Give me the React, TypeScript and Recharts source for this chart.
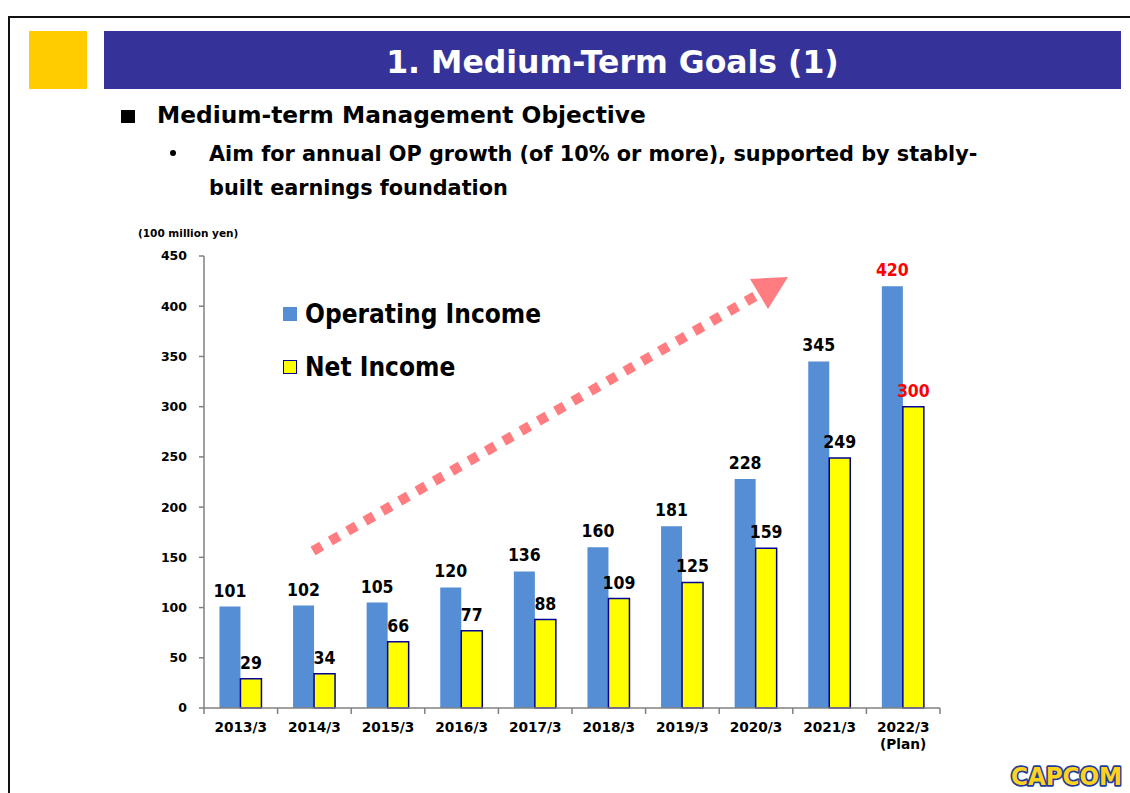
import React from "react";
import { BarChart, Bar, XAxis, YAxis, Legend, LabelList } from "recharts";

const categories = ["2013/3", "2014/3", "2015/3", "2016/3", "2017/3", "2018/3", "2019/3", "2020/3", "2021/3", "2022/3"];
const categoryNotes = ["", "", "", "", "", "", "", "", "", "(Plan)"];
const operatingIncome = [101, 102, 105, 120, 136, 160, 181, 228, 345, 420];
const netIncome = [29, 34, 66, 77, 88, 109, 125, 159, 249, 300];
const isPlan = [false, false, false, false, false, false, false, false, false, true];
const yTicks = [0, 50, 100, 150, 200, 250, 300, 350, 400, 450];

const COND = "'DejaVu Sans Condensed', 'DejaVu Sans', sans-serif";
const WIDE = "'DejaVu Sans', sans-serif";
const BLUE = "#558ED5";
const YELLOW = "#FFFF00";
const NAVY = "#000099";
const AXIS = "#808080";

const chartData = categories.map((c, i) => ({
  name: c,
  note: categoryNotes[i],
  op: operatingIncome[i],
  net: netIncome[i],
}));

function ValueLabel(props: any) {
  const { x, y, width, value, index } = props;
  return (
    <text
      x={Number(x) + Number(width) / 2}
      y={Number(y) - 10}
      textAnchor="middle"
      fontFamily={COND}
      fontWeight="bold"
      fontSize={17.5}
      fill={isPlan[index] ? "#FF0000" : "#000"}
    >
      {value}
    </text>
  );
}

function CategoryTick(props: any) {
  const { x, y, payload, index } = props;
  const half = payload?.offset || 36.8;
  const last = index === categories.length - 1;
  const note = categoryNotes[index];
  return (
    <g>
      <line x1={x - half} y1={y} x2={x - half} y2={y + 6} stroke={AXIS} strokeWidth={1.5} />
      {last ? <line x1={x + half} y1={y} x2={x + half} y2={y + 6} stroke={AXIS} strokeWidth={1.5} /> : null}
      <text x={x} y={y + 24} textAnchor="middle" fontFamily={WIDE} fontWeight="bold" fontSize={13.7} fill="#000">
        {payload.value}
      </text>
      {note ? (
        <text x={x} y={y + 41} textAnchor="middle" fontFamily={WIDE} fontWeight="bold" fontSize={13.7} fill="#000">
          {note}
        </text>
      ) : null}
    </g>
  );
}

function LegendBox() {
  const items = [
    { label: "Operating Income", fill: BLUE, stroke: "none" },
    { label: "Net Income", fill: YELLOW, stroke: NAVY },
  ];
  return (
    <div style={{ fontFamily: COND, fontWeight: "bold", fontSize: 26, color: "#000" }}>
      {items.map((it, i) => (
        <div key={it.label} style={{ display: "flex", alignItems: "center", height: 30, marginBottom: i === 0 ? 23 : 0 }}>
          <span
            style={{
              display: "inline-block",
              width: it.stroke === "none" ? 14 : 12,
              height: it.stroke === "none" ? 14 : 12,
              background: it.fill,
              border: it.stroke === "none" ? "none" : `1.5px solid ${it.stroke}`,
              marginRight: 8,
            }}
          />
          <span>{it.label}</span>
        </div>
      ))}
    </div>
  );
}

export default function App() {
  return (
    <div style={{ position: "absolute", left: 0, top: 0, width: 1130, height: 793, background: "#fff", overflow: "hidden" }}>
      {/* page frame */}
      <div style={{ position: "absolute", left: 8, top: 16, width: 1200, height: 900, borderTop: "2px solid #111", borderLeft: "2px solid #111" }} />
      {/* header */}
      <div style={{ position: "absolute", left: 29, top: 31, width: 58, height: 58, background: "#FFCC00" }} />
      <div
        style={{
          position: "absolute",
          left: 104,
          top: 31,
          width: 1017,
          height: 56,
          paddingTop: 2,
          background: "#353399",
          color: "#fff",
          fontFamily: WIDE,
          fontWeight: "bold",
          fontSize: 31.5,
          lineHeight: "58px",
          textAlign: "center",
        }}
      >
        1. Medium-Term Goals (1)
      </div>
      <div style={{ position: "absolute", left: 121, top: 110, width: 14, height: 13, background: "#000" }} />
      <div style={{ position: "absolute", left: 157, top: 101, fontFamily: WIDE, fontWeight: "bold", fontSize: 23.3, color: "#000", whiteSpace: "nowrap" }}>
        Medium-term Management Objective
      </div>
      <div style={{ position: "absolute", left: 170, top: 150, width: 6, height: 6, borderRadius: 3, background: "#000" }} />
      <div style={{ position: "absolute", left: 209, top: 137, fontFamily: WIDE, fontWeight: "bold", fontSize: 20.8, lineHeight: "34px", color: "#000", whiteSpace: "nowrap" }}>
        Aim for annual OP growth (of 10% or more), supported by stably-
        <br />
        built earnings foundation
      </div>
      <div style={{ position: "absolute", left: 138, top: 227, fontFamily: WIDE, fontWeight: "bold", fontSize: 10.5, color: "#000", whiteSpace: "nowrap" }}>
        (100 million yen)
      </div>

      <div style={{ position: "absolute", left: 0, top: 0 }}>
        <BarChart
          width={1130}
          height={793}
          data={chartData}
          margin={{ top: 256, right: 190, bottom: 55, left: 144 }}
          barCategoryGap="21%"
          barGap={0}
        >
          <XAxis
            dataKey="name"
            interval={0}
            tickSize={0}
            tickMargin={0}
            tickLine={false}
            axisLine={{ stroke: AXIS, strokeWidth: 1.5 }}
            tick={<CategoryTick />}
            height={30}
          />
          <YAxis
            domain={[0, 450]}
            ticks={yTicks}
            interval={0}
            width={60}
            tickSize={5}
            tickMargin={12}
            axisLine={{ stroke: AXIS, strokeWidth: 1.5 }}
            tickLine={{ stroke: AXIS, strokeWidth: 1.5 }}
            tick={{ fontFamily: WIDE, fontWeight: "bold", fontSize: 12.5, fill: "#000" }}
          />
          <Legend
            layout="vertical"
            align="center"
            verticalAlign="middle"
            content={() => <LegendBox />}
            wrapperStyle={{ left: 283, top: 299, width: 300 }}
          />
          <Bar dataKey="op" name="Operating Income" fill={BLUE} isAnimationActive={false}>
            <LabelList dataKey="op" content={<ValueLabel />} />
          </Bar>
          <Bar dataKey="net" name="Net Income" fill={YELLOW} stroke={NAVY} strokeWidth={1.5} isAnimationActive={false}>
            <LabelList dataKey="net" content={<ValueLabel />} />
          </Bar>
        </BarChart>
      </div>

      {/* growth arrow */}
      <svg style={{ position: "absolute", left: 0, top: 0 }} width={1130} height={793}>
        <line x1={313} y1={551} x2={759} y2={294} stroke="#FF7C80" strokeWidth={10} strokeDasharray="10 10" />
        <polygon points="788,277 750,279 768,309" fill="#FF7C80" />
        <text
          x={1011}
          y={785}
          textLength={111}
          lengthAdjust="spacingAndGlyphs"
          fontFamily={WIDE}
          fontWeight="bold"
          fontSize={25}
          fill="#FFD21F"
          stroke="#1E3C9A"
          strokeWidth={3.5}
          paintOrder="stroke"
          strokeLinejoin="round"
        >
          CAPCOM
        </text>
      </svg>
    </div>
  );
}
